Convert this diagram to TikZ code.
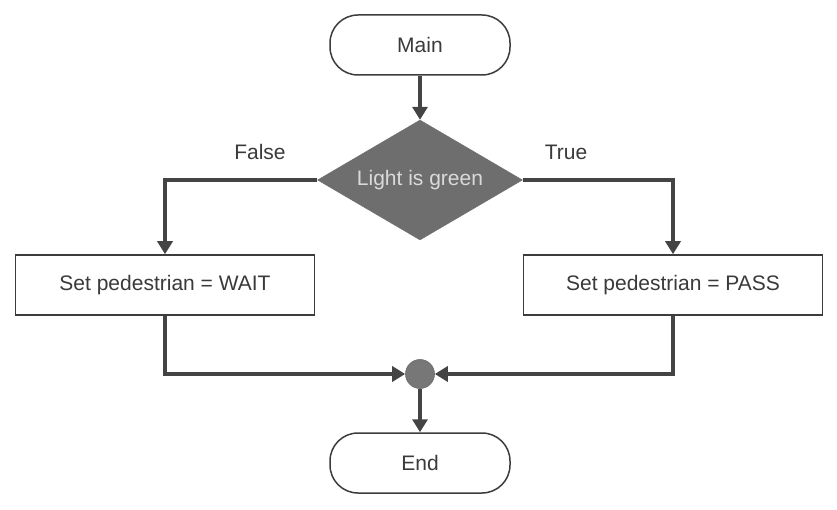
\documentclass[tikz,border=0pt]{standalone}
\usepackage{fontspec}
\setmainfont{Liberation Sans}
\usetikzlibrary{shapes.geometric,arrows.meta}
\definecolor{linec}{HTML}{444444}
\definecolor{boxc}{HTML}{3C3C3C}
\definecolor{txtc}{HTML}{3A3A3A}
\definecolor{decfill}{HTML}{6E6E6E}
\definecolor{dectxt}{HTML}{DADADA}
\definecolor{joinfill}{HTML}{777777}
\begin{document}
\begin{tikzpicture}[x=1pt,y=-1pt,
  every node/.style={font=\fontsize{21}{24}\selectfont, text=txtc},
  term/.style={draw=boxc, line width=1.5pt, fill=white, rounded corners=28pt,
    minimum width=180pt, minimum height=60pt, inner sep=0pt},
  proc/.style={draw=boxc, line width=1.5pt, fill=white,
    minimum width=299pt, minimum height=60pt, inner sep=0pt},
  decision/.style={diamond, fill=decfill, draw=decfill, aspect=1.71, inner sep=0pt,
    minimum width=205pt, minimum height=120pt, text=dectxt},
  joint/.style={circle, fill=joinfill, draw=linec!80, line width=0.6pt,
    minimum size=29pt, inner sep=0pt},
  conn/.style={draw=linec, line width=3.6pt,
    -{Triangle[length=13pt,width=15pt]}},
  lbl/.style={text=txtc}
]
\useasboundingbox (0,0) rectangle (837,510);
\node[term] (main) at (420,45) {Main};
\node[decision] (dec) at (420,180) {Light is green};
\node[proc] (wait) at (165,285) {Set pedestrian = WAIT};
\node[proc] (pass) at (673,285) {Set pedestrian = PASS};
\node[joint] (join) at (420,374) {};
\node[term] (endn) at (420,463) {End};
\node[lbl] (flbl) at (260,152) {False};
\node[lbl] (tlbl) at (566,152) {True};
\draw[conn] (main) -- (dec);
\draw[conn] (dec.west) -| (wait.north);
\draw[conn] (dec.east) -| (pass.north);
\draw[conn] (wait.south) |- (join.west);
\draw[conn] (pass.south) |- (join.east);
\draw[conn] (join) -- (endn);
\end{tikzpicture}
\end{document}
